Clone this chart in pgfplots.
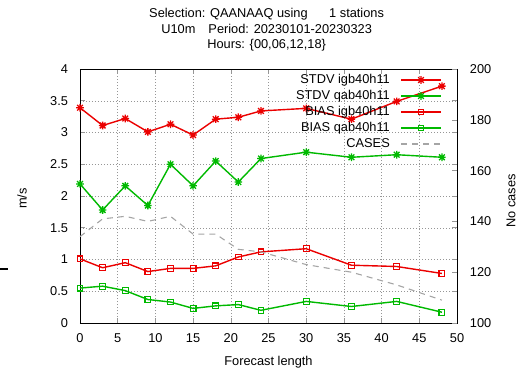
\documentclass[border=0pt]{standalone}
\usepackage{pgfplots}
\usepackage{pgfplotstable}
\pgfplotsset{compat=1.18}
\usepackage{fontspec}
\setmainfont{Liberation Sans}

\definecolor{gpred}{RGB}{235,0,0}
\definecolor{gpgreen}{RGB}{0,185,0}
\definecolor{gpgrey}{RGB}{165,165,165}
\definecolor{gpgrid}{RGB}{150,150,150}

% gnuplot-style "*" mark: a plus sign laid over a cross
\pgfdeclareplotmark{gpstar}{%
  \pgfpathmoveto{\pgfqpoint{-\pgfplotmarksize}{0pt}}%
  \pgfpathlineto{\pgfqpoint{\pgfplotmarksize}{0pt}}%
  \pgfpathmoveto{\pgfqpoint{0pt}{-\pgfplotmarksize}}%
  \pgfpathlineto{\pgfqpoint{0pt}{\pgfplotmarksize}}%
  \pgfpathmoveto{\pgfqpoint{-0.75\pgfplotmarksize}{-0.75\pgfplotmarksize}}%
  \pgfpathlineto{\pgfqpoint{0.75\pgfplotmarksize}{0.75\pgfplotmarksize}}%
  \pgfpathmoveto{\pgfqpoint{-0.75\pgfplotmarksize}{0.75\pgfplotmarksize}}%
  \pgfpathlineto{\pgfqpoint{0.75\pgfplotmarksize}{-0.75\pgfplotmarksize}}%
  \pgfusepathqstroke}

% forecast length, STDV/BIAS for both experiments, number of cases
\pgfplotstableread{
hour sdi  sdq  bii  biq  cases
0    3.39 2.19 1.01 0.55 134
3    3.11 1.78 0.87 0.58 141
6    3.22 2.16 0.95 0.51 142
9    3.01 1.85 0.81 0.37 140
12   3.13 2.50 0.86 0.33 142
15   2.96 2.16 0.86 0.23 135
18   3.21 2.55 0.90 0.27 135
21   3.24 2.22 1.04 0.29 129
24   3.34 2.59 1.12 0.20 128
30   3.38 2.69 1.17 0.34 123
36   3.21 2.61 0.91 0.26 120
42   3.49 2.65 0.89 0.34 115
48   3.73 2.61 0.78 0.17 109
}\verif

\pgfplotsset{
  gpbase/.style={
    scale only axis, width=377pt, height=254pt,
    xmin=0, xmax=50,
    tick align=inside, major tick length=5pt,
    /pgf/number format/assume math mode=true,
    tick label style={font=\fontsize{12.8}{15}\selectfont},
    label style={font=\fontsize{12.8}{15}\selectfont},
    axis line style={line width=0.9pt},
    every tick/.style={line width=0.6pt, gpgrid},
  },
}

\begin{document}
\fontsize{12.8}{15.7}\selectfont
\begin{tikzpicture}
\useasboundingbox (-80pt,-47pt) rectangle (442pt,323pt);

\begin{axis}[
  gpbase,
  ymin=0, ymax=4,
  xtick={0,5,...,50}, ytick={0,0.5,...,4},
  yticklabels={0,0.5,1,1.5,2,2.5,3,3.5,4},
  xticklabel style={yshift=-6pt},
  yticklabel style={xshift=-7.5pt},
  grid=major,
  major grid style={gpgrid, line width=0.5pt, dash pattern=on 1pt off 2pt},
  xlabel={Forecast length},
  xlabel style={at={(axis description cs:0.5,0)}, anchor=center, yshift=-39pt},
  ylabel={m/s},
  ylabel style={at={(axis description cs:-0.1538,0.49)}, anchor=center},
  title={Selection: QAANAAQ using\hspace{18pt} 1 stations\\
         U10m\hspace{9.5pt} Period: 20230101-20230323\\
         Hours: \{00,06,12,18\}},
  title style={font=\fontsize{12.8}{15.7}\selectfont, align=center,
               at={(axis description cs:0.495,1)}, anchor=south, yshift=7pt},
  legend plot pos=right,
  legend cell align=right,
  legend style={at={(axis description cs:0.960,1)}, anchor=north east,
                yshift=-3.3pt, draw=none, fill=none, inner sep=0pt,
                font=\fontsize{12.8}{15}\selectfont,
                nodes={inner sep=1.5pt, text height=9.5pt, text depth=2.5pt},
                row sep=1pt, column sep=9pt},
  legend image code/.code={%
    \draw[mark repeat=2, mark phase=2]
      plot coordinates {(0pt,0pt) (20pt,0pt) (40pt,0pt)};},
]
\addplot[gpred, line width=1.4pt, mark=gpstar, mark size=3.8pt,
         mark options={line width=1.3pt}]
  table[x=hour, y=sdi] {\verif};
\addlegendentry{STDV igb40h11}
\addplot[gpgreen, line width=1.4pt, mark=gpstar, mark size=3.8pt,
         mark options={line width=1.3pt}]
  table[x=hour, y=sdq] {\verif};
\addlegendentry{STDV qab40h11}
\addplot[gpred, line width=1.4pt, mark=square, mark size=2.9pt,
         mark options={line width=1.1pt}]
  table[x=hour, y=bii] {\verif};
\addlegendentry{BIAS igb40h11}
\addplot[gpgreen, line width=1.4pt, mark=square, mark size=2.9pt,
         mark options={line width=1.1pt}]
  table[x=hour, y=biq] {\verif};
\addlegendentry{BIAS qab40h11}
\addlegendimage{gpgrey, line width=1.1pt, dash pattern=on 6pt off 5pt}
\addlegendentry{CASES}
\end{axis}

\begin{axis}[
  gpbase,
  ymin=100, ymax=200,
  hide x axis,
  axis y line*=right,
  ytick={100,120,...,200},
  yticklabel style={xshift=8.5pt},
  ylabel={No cases},
  ylabel style={at={(axis description cs:1.1432,0.48)}, anchor=center},
]
\addplot[gpgrey, line width=1.1pt, dash pattern=on 6pt off 5pt]
  table[x=hour, y=cases] {\verif};
\end{axis}

% short stray stroke at the left margin
\draw[line width=1.5pt] (-80pt,54pt) -- (-72pt,54pt);
\end{tikzpicture}
\end{document}
